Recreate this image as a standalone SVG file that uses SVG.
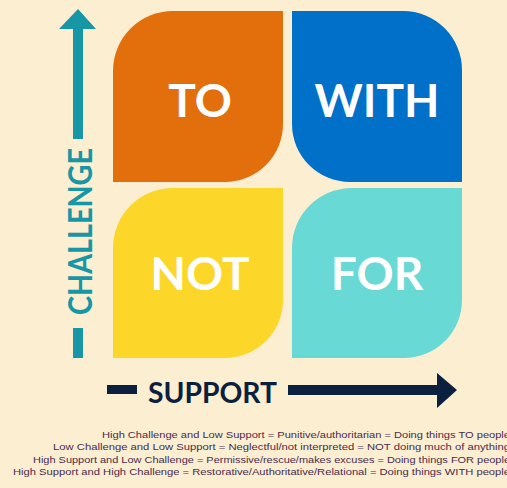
<svg xmlns="http://www.w3.org/2000/svg" width="507" height="488" viewBox="0 0 507 488">
<style>
.lbl{font-family:Lato,"Open Sans","Liberation Sans",sans-serif;font-weight:700;fill:#ffffff;text-anchor:middle}
.note{font-family:"Liberation Sans","DejaVu Sans",sans-serif;font-size:9px;fill:#4a2b4c;text-anchor:end}
</style>
<rect x="0" y="0" width="507" height="488" fill="#fbeed1"/>
<g id="to">
<path d="M113,71 A60,60 0 0 1 173,11 L283,11 L283,124 A58,58 0 0 1 225,182 L113,182 Z" fill="#e36f0c"/>
<text class="lbl" x="200" y="117" font-size="46">TO</text>
</g>
<g id="with">
<path d="M292,11 L403,11 A59,59 0 0 1 462,70 L462,182 L350,182 A58,58 0 0 1 292,124 Z" fill="#0170c8"/>
<text class="lbl" x="377" y="117" font-size="46">WITH</text>
</g>
<g id="not">
<path d="M113,248 A60,60 0 0 1 173,188 L283,188 L283,300 A58,58 0 0 1 225,358 L113,358 Z" fill="#fdd62a"/>
<text class="lbl" x="200" y="290" font-size="46">NOT</text>
</g>
<g id="for">
<path d="M292,248 A60,60 0 0 1 352,188 L462,188 L462,300 A58,58 0 0 1 404,358 L292,358 Z" fill="#68d9d4"/>
<text class="lbl" x="377" y="290" font-size="46">FOR</text>
</g>
<g id="connectors">
<g id="challenge-axis" fill="#1796a6">
<polygon points="78,9 96,29 83,29 83,139 73,139 73,29 59,29"/>
<rect x="73" y="328" width="10" height="30"/>
<text transform="translate(92,231.5) rotate(-90)" x="0" y="0" font-family="Lato,'Open Sans','Liberation Sans',sans-serif" font-weight="700" font-size="33" text-anchor="middle" textLength="167" lengthAdjust="spacingAndGlyphs">CHALLENGE</text>
</g>
<g id="support-axis" fill="#0b1f3e">
<rect x="107" y="385" width="30" height="9"/>
<polygon points="288,385 437,385 437,373 457,390 437,408 437,395 288,395"/>
<text x="148" y="403" font-family="Lato,'Open Sans','Liberation Sans',sans-serif" font-weight="700" font-size="29" textLength="129" lengthAdjust="spacingAndGlyphs">SUPPORT</text>
</g>
</g>
<g id="notes">
<text class="note" x="510" y="438" textLength="408" lengthAdjust="spacingAndGlyphs">High Challenge and Low Support = Punitive/authoritarian = Doing things TO people</text>
<text class="note" x="510" y="450" textLength="457" lengthAdjust="spacingAndGlyphs">Low Challenge and Low Support = Neglectful/not interpreted = NOT doing much of anything</text>
<text class="note" x="510" y="463" textLength="477" lengthAdjust="spacingAndGlyphs">High Support and Low Challenge = Permissive/rescue/makes excuses = Doing things FOR people</text>
<text class="note" x="510" y="475" textLength="497" lengthAdjust="spacingAndGlyphs">High Support and High Challenge = Restorative/Authoritative/Relational = Doing things WITH people</text>
</g>
</svg>
